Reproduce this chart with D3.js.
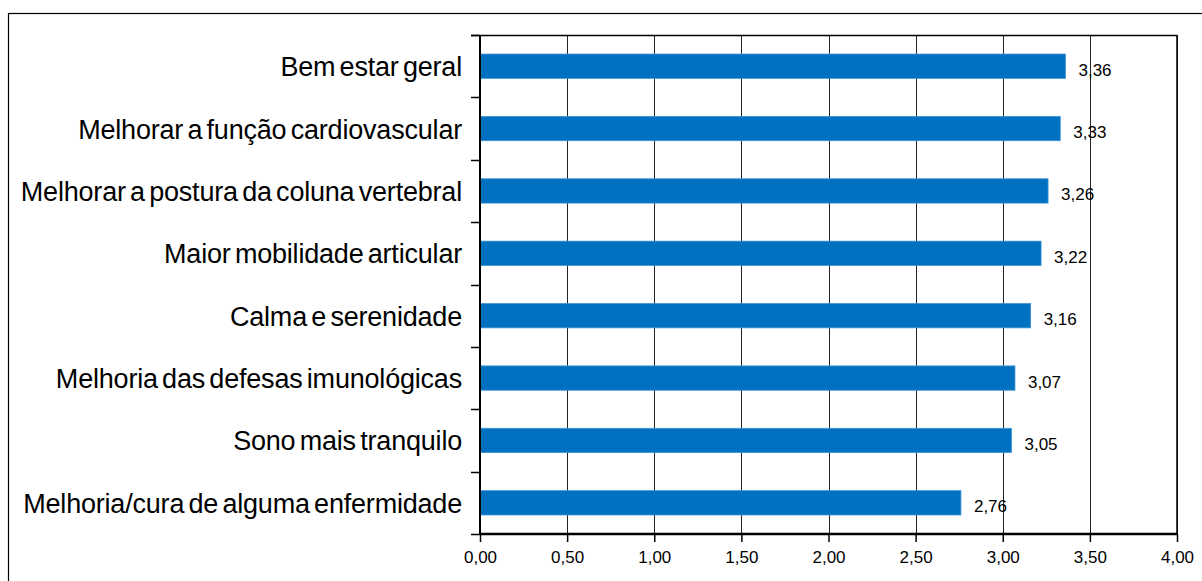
<!DOCTYPE html>
<meta charset="utf-8">
<style>
body { margin: 0; background: #fff; }
svg { font-family: "Liberation Sans", Arial, sans-serif; }
.cat { font-size: 27px; word-spacing: -3px; letter-spacing: -0.2px; fill: #000; }
.val, .tick text { font-size: 17px; fill: #000; }
.grid line { stroke: #222; stroke-width: 1; shape-rendering: crispEdges; }
</style>
<body>
<script src="https://cdn.jsdelivr.net/npm/d3@7/dist/d3.min.js"></script>
<script>

var categories = [
  "Bem estar geral",
  "Melhorar a função cardiovascular",
  "Melhorar a postura da coluna vertebral",
  "Maior mobilidade articular",
  "Calma e serenidade",
  "Melhoria das defesas imunológicas",
  "Sono mais tranquilo",
  "Melhoria/cura de alguma enfermidade"
];
var values = [3.36, 3.33, 3.26, 3.22, 3.16, 3.07, 3.05, 2.76];
var ticks = [0, 0.5, 1, 1.5, 2, 2.5, 3, 3.5, 4];

var width = 1202, height = 581,
    plotLeft = 480, plotRight = 1177, plotTop = 35, plotBottom = 534;

var fmt = function(v) { return v.toFixed(2).replace(".", ","); };

var svg = d3.select("body").append("svg")
    .attr("width", width)
    .attr("height", height);

// outer frame
svg.append("rect")
    .attr("x", 8.5).attr("y", 13.5)
    .attr("width", 1210).attr("height", 600)
    .attr("fill", "none").attr("stroke", "#000").attr("stroke-width", 1.2);

var x = d3.scaleLinear().domain([0, 4]).range([plotLeft, plotRight]);
var y = d3.scaleBand().domain(categories).range([plotTop, plotBottom])
    .paddingInner(0.61).paddingOuter(0.305);

// vertical gridlines
svg.append("g").attr("class", "grid")
  .selectAll("line")
    .data(ticks.slice(1))
  .enter().append("line")
    .attr("x1", function(d) { return Math.round(x(d)) + 0.5; })
    .attr("x2", function(d) { return Math.round(x(d)) + 0.5; })
    .attr("y1", plotTop).attr("y2", plotBottom);

// top border of plot area
svg.append("line")
    .attr("x1", plotLeft - 9).attr("x2", plotRight)
    .attr("y1", plotTop + 0.5).attr("y2", plotTop + 0.5)
    .attr("stroke", "#000").attr("stroke-width", 1.5);

// bars
svg.selectAll(".bar")
    .data(values)
  .enter().append("rect")
    .attr("class", "bar")
    .attr("x", x(0))
    .attr("y", function(d, i) { return y(categories[i]); })
    .attr("width", function(d) { return x(d) - x(0); })
    .attr("height", y.bandwidth())
    .attr("fill", "#0070C0")
    .attr("stroke", "#3f95d6")
    .attr("stroke-width", 0.8);

// value labels
svg.selectAll(".val")
    .data(values)
  .enter().append("text")
    .attr("class", "val")
    .attr("x", function(d) { return x(d) + 13; })
    .attr("y", function(d, i) { return y(categories[i]) + y.bandwidth() / 2 + 9.5; })
    .text(fmt);

// category labels
svg.selectAll(".cat")
    .data(categories)
  .enter().append("text")
    .attr("class", "cat")
    .attr("x", plotLeft - 18)
    .attr("y", function(d) { return y(d) + y.bandwidth() / 2 + 10; })
    .attr("text-anchor", "end")
    .text(function(d) { return d; });

// y axis with ticks at band boundaries
var bounds = categories.map(function(d) { return y(d) - y.step() * y.paddingInner() / 2; }).concat([plotBottom]);
svg.selectAll(".ytick")
    .data(bounds)
  .enter().append("line")
    .attr("x1", plotLeft - 9).attr("x2", plotLeft)
    .attr("y1", function(d) { return Math.round(d) + 0.5; })
    .attr("y2", function(d) { return Math.round(d) + 0.5; })
    .attr("stroke", "#000").attr("stroke-width", 1.5);
svg.append("line")
    .attr("x1", plotLeft).attr("x2", plotLeft)
    .attr("y1", plotTop).attr("y2", plotBottom + 1)
    .attr("stroke", "#000").attr("stroke-width", 2);

// right border of plot area
svg.append("line")
    .attr("x1", plotRight).attr("x2", plotRight)
    .attr("y1", plotTop).attr("y2", plotBottom)
    .attr("stroke", "#000").attr("stroke-width", 1.5);

// x axis
var xAxis = d3.axisBottom(x)
    .tickValues(ticks)
    .tickSize(8)
    .tickFormat(fmt);
var gx = svg.append("g")
    .attr("transform", "translate(0," + plotBottom + ")")
    .call(xAxis);
gx.select(".domain").attr("stroke", "#000").attr("stroke-width", 2.5)
    .attr("d", "M" + plotLeft + ",0H" + plotRight);
gx.selectAll(".tick line").attr("stroke", "#000").attr("stroke-width", 1.5);
gx.selectAll(".tick text").attr("y", 17).attr("font-family", null).attr("font-size", null);

</script>
</body>
